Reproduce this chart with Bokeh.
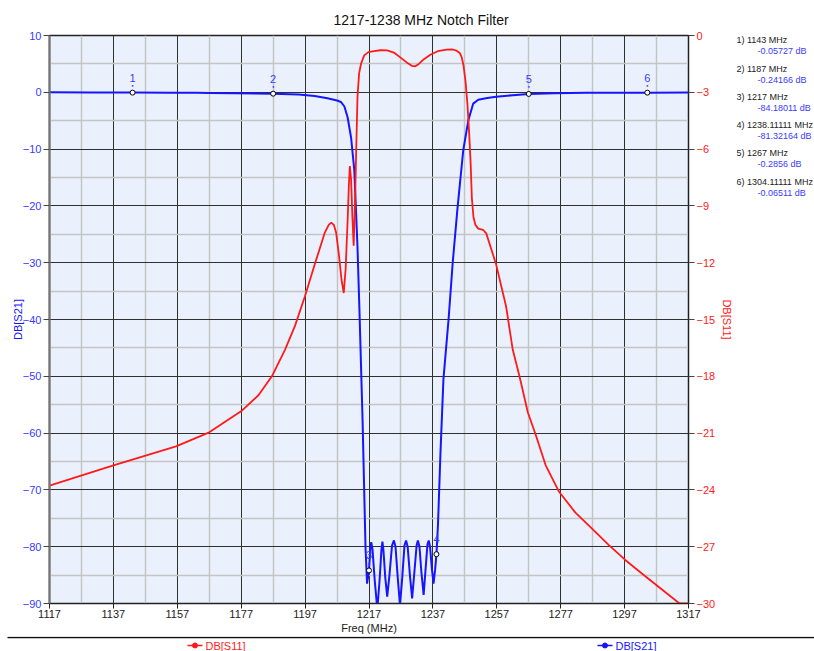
from bokeh.plotting import figure
from bokeh.models import Range1d, LinearAxis, FixedTicker
from bokeh.layouts import column, row
from bokeh.embed import file_html
from bokeh.resources import INLINE
from bokeh.core.properties import value

# ---------------- data ----------------
title_text = "1217-1238 MHz Notch Filter"
x_ticks = list(range(1117, 1318, 20))
x_minor = list(range(1127, 1318, 20))
y_ticks = list(range(10, -91, -10))
y_minor = list(range(5, -90, -10))
r_ticks = list(range(0, -31, -3))

freq_s21 = [1117, 1130, 1143, 1155, 1163, 1167, 1175, 1187, 1195, 1200, 1204, 1207,
            1208.2, 1209.3, 1210.3, 1211.4, 1212.4, 1213.4, 1214.0, 1215.0, 1215.9,
            1216.4, 1217.0, 1217.4, 1217.7, 1218.1, 1218.8, 1219.6, 1220.3, 1220.9,
            1221.2, 1221.5, 1222.1, 1222.7, 1223.4, 1224.2, 1224.8, 1225.3, 1226.0,
            1226.7, 1227.4, 1228.1, 1228.6, 1229.1, 1229.8, 1230.5, 1231.2, 1231.9,
            1232.3, 1232.8, 1233.4, 1234.1, 1234.7, 1235.3, 1235.7, 1236.1, 1236.7,
            1237.2, 1237.7, 1238.11111, 1238.6, 1239.4, 1240.3, 1241.9, 1243.2, 1244.7,
            1246.5, 1248.1, 1249.6, 1251.2, 1254.0, 1256.8, 1262, 1267, 1275, 1285,
            1304.11111, 1317]
db_s21 = [0, -0.03, -0.057, -0.07, -0.08, -0.12, -0.16, -0.24, -0.4, -0.65, -1.05, -1.45,
          -1.7, -2.5, -4.4, -8.0, -13.7, -27.2, -38.2, -58, -80,
          -86.5, -84.2, -80.5, -79.2, -80.5, -86, -91, -86, -80.5,
          -79.1, -80.5, -85.5, -88.8, -85, -79.8, -78.9, -80, -85.5,
          -90.3, -85.5, -79.8, -78.9, -80, -85, -89.1, -84.5, -79.8,
          -78.9, -80, -84.5, -88.5, -84, -79.6, -78.9, -80, -84,
          -86.5, -84, -81.32164, -76, -63, -50.5, -40, -30, -20.4,
          -10.2, -4.9, -2.0, -1.3, -1.0, -0.8, -0.5, -0.2856, -0.15, -0.08,
          -0.06511, -0.05]

freq_s11 = [1117, 1137, 1156.6, 1167, 1177.3, 1182.4, 1186.6, 1190.7, 1193.8, 1196.9,
            1200, 1203.1, 1204.4, 1205.2, 1206.0, 1206.7, 1207.6, 1208.4, 1209.1, 1209.7,
            1210.3, 1210.7, 1211.0, 1211.4, 1211.8, 1212.2, 1212.6, 1213.0, 1213.4, 1213.9,
            1214.5, 1215.5, 1216.8, 1218.6, 1220.5, 1222.7, 1225.0, 1227.0, 1228.8, 1230.4,
            1231.5, 1232.6, 1234.2, 1236.2, 1238.5, 1241.3, 1243.2, 1244.4, 1245.4, 1246.0,
            1246.6, 1247.2, 1247.8, 1248.3, 1248.8, 1249.2, 1249.7, 1250.3, 1251.2, 1252.7,
            1253.7, 1255.3, 1256.8, 1259.9, 1262, 1264.1, 1266.7, 1269.2, 1272.3, 1276.5,
            1281.6, 1286.8, 1292, 1297.2, 1302.3, 1307.5, 1314.2, 1317]
db_s11 = [-23.77, -22.7, -21.7, -20.96, -19.8, -19.0, -18.0, -16.6, -15.35, -13.8,
          -12.1, -10.44, -10.0, -9.88, -10.0, -10.4, -11.6, -12.9, -13.6, -12.3,
          -9.8, -7.9, -6.9, -7.6, -9.6, -11.1, -9.0, -6.0, -3.25, -2.0,
          -1.49, -1.05, -0.88, -0.82, -0.78, -0.79, -0.92, -1.18, -1.42, -1.6,
          -1.63, -1.5, -1.25, -1.02, -0.83, -0.75, -0.74, -0.8, -0.92, -1.14,
          -1.6, -2.4, -3.6, -5.0, -6.7, -8.6, -9.6, -10.0, -10.2, -10.26,
          -10.45, -11.3, -12.1, -14.3, -16.6, -18.0, -19.9, -21.1, -22.7, -24.1,
          -25.2, -26.05, -26.9, -27.7, -28.4, -29.1, -30, -30]

marker_ids = ["1", "2", "3", "4", "5", "6"]
marker_freq = [1143, 1187, 1217, 1238.11111, 1267, 1304.11111]
marker_db = [-0.05727, -0.24166, -84.18011, -81.32164, -0.2856, -0.06511]
marker_freq_text = ["1143", "1187", "1217", "1238.11111", "1267", "1304.11111"]
marker_db_text = ["-0.05727", "-0.24166", "-84.18011", "-81.32164", "-0.2856", "-0.06511"]

legend_labels = ["DB[S11]", "DB[S21]"]

# ---------------- layout / style ----------------
FONT = "Liberation Sans"
BLUE = "#1515ff"
BLUE_TXT = "#3a3aff"
RED = "#ff1a1a"
W_TOTAL = 814
W_MAIN = 736
H_MAIN, H_STRIP = 636, 15
BL, BT = 49, 35
FRAME_W, FRAME_H = 645, 570
BR = W_MAIN - BL - FRAME_W
BB = H_MAIN - BT - FRAME_H
X0, X1 = x_ticks[0], x_ticks[-1]
Y0, Y1 = y_ticks[-1], y_ticks[0]

p = figure(width=W_MAIN, height=H_MAIN, x_range=Range1d(X0, X1), y_range=Range1d(Y0, Y1),
           output_backend="svg", toolbar_location=None,
           min_border_left=BL, min_border_right=BR, min_border_top=BT,
           min_border_bottom=BB, background_fill_color="#eaf1fd",
           border_fill_color="white")
p.outline_line_color = "#222222"
p.outline_line_width = 1.5

p.title.text = title_text
p.title.align = "left"
p.title.offset = 284
p.title.standoff = 16
p.title.text_font = FONT
p.title.text_font_size = "14px"
p.title.text_font_style = "normal"
p.title.text_color = "#111111"

p.xaxis.ticker = FixedTicker(ticks=x_ticks, minor_ticks=x_minor)
p.yaxis.ticker = FixedTicker(ticks=y_ticks, minor_ticks=y_minor)
p.xgrid.ticker = p.xaxis.ticker
p.ygrid.ticker = p.yaxis.ticker
for g in (p.xgrid, p.ygrid):
    g.grid_line_color = "#303030"
    g.grid_line_width = 1
    g.minor_grid_line_color = "#c4c4c4"
    g.minor_grid_line_width = 1.5

p.xaxis.axis_label = "Freq (MHz)"
p.xaxis.axis_label_text_font = FONT
p.xaxis.axis_label_text_font_size = "11px"
p.xaxis.axis_label_text_font_style = "normal"
p.xaxis.axis_label_text_color = "#222222"
p.xaxis.axis_label_standoff = 1
p.xaxis.major_label_text_font = FONT
p.xaxis.major_label_text_font_size = "11px"
p.xaxis.major_label_text_color = "#222222"
p.xaxis.major_label_standoff = 1
p.xaxis.major_tick_out = 5
p.xaxis.major_tick_in = 0
p.xaxis.minor_tick_line_color = None
p.xaxis.axis_line_color = "#222222"
p.xaxis.major_tick_line_color = "#222222"

p.yaxis.axis_label = "DB[S21]"
p.yaxis.axis_label_text_font = FONT
p.yaxis.axis_label_text_font_size = "11px"
p.yaxis.axis_label_text_font_style = "normal"
p.yaxis.axis_label_text_color = BLUE
p.yaxis.axis_label_standoff = -4
p.yaxis.major_label_text_font = FONT
p.yaxis.major_label_text_font_size = "11px"
p.yaxis.major_label_text_color = BLUE_TXT
p.yaxis.major_label_standoff = 2
p.yaxis.major_tick_out = 6
p.yaxis.major_tick_in = 0
p.yaxis.minor_tick_line_color = None
p.yaxis.axis_line_color = "#777777"
p.yaxis.axis_line_width = 2
p.yaxis.major_tick_line_color = "#444444"

p.extra_y_ranges = {"s11": Range1d(r_ticks[-1], r_ticks[0])}
ax_r = LinearAxis(y_range_name="s11", ticker=FixedTicker(ticks=r_ticks),
                  axis_label="DB[S11]")
ax_r.axis_label_text_font = FONT
ax_r.axis_label_text_font_size = "11px"
ax_r.axis_label_text_font_style = "normal"
ax_r.axis_label_text_color = RED
ax_r.axis_label_standoff = 3
ax_r.major_label_text_font = FONT
ax_r.major_label_text_font_size = "11px"
ax_r.major_label_text_color = RED
ax_r.major_label_standoff = 2
ax_r.major_tick_out = 6
ax_r.major_tick_in = 0
ax_r.minor_tick_line_color = None
ax_r.axis_line_color = "#222222"
ax_r.major_tick_line_color = "#444444"
p.add_layout(ax_r, "right")

# ---------------- curves ----------------
r21 = p.line(freq_s21, db_s21, line_color=BLUE, line_width=2)
r11 = p.line(freq_s11, db_s11, y_range_name="s11", line_color=RED, line_width=1.8)

p.scatter(marker_freq, marker_db, size=5, fill_color="white", line_color="black",
          line_width=1)
p.text(marker_freq, marker_db, text=marker_ids, y_offset=-15, text_align="center",
       text_baseline="middle", text_color=BLUE_TXT, text_font=value(FONT),
       text_font_size="11px")
p.text(marker_freq, marker_db, text=["\u2022"] * len(marker_ids), y_offset=-7,
       text_align="center", text_baseline="middle", text_color=BLUE_TXT,
       text_font=value("DejaVu Sans"), text_font_size="6px")

# ---------------- side panel: marker read-outs (px coordinates) ----------------
side = figure(width=W_TOTAL - W_MAIN, height=H_MAIN,
              x_range=Range1d(W_MAIN, W_TOTAL), y_range=Range1d(BT + FRAME_H, BT),
              output_backend="svg", toolbar_location=None,
              min_border_left=0, min_border_right=0, min_border_top=BT,
              min_border_bottom=BB, x_axis_type=None, y_axis_type=None,
              border_fill_color="white", background_fill_color="white")
side.outline_line_color = None
side.grid.visible = False
line_y = [40 + 28.33 * i for i in range(len(marker_ids))]
side.text([W_MAIN] * len(marker_ids), line_y,
          text=[f"{m}) {f} MHz" for m, f in zip(marker_ids, marker_freq_text)],
          text_align="left", text_baseline="middle", text_color="#222222",
          text_font=value(FONT), text_font_size="9px")
side.text([W_MAIN + 21] * len(marker_ids), [y + 11 for y in line_y],
          text=[f"{d} dB" for d in marker_db_text],
          text_align="left", text_baseline="middle", text_color=BLUE_TXT,
          text_font=value(FONT), text_font_size="9px")

# ---------------- bottom strip: separator + legend (px coordinates) ----------------
s = figure(width=W_TOTAL, height=H_STRIP, x_range=Range1d(0, W_TOTAL),
           y_range=Range1d(H_STRIP, 0), output_backend="svg", toolbar_location=None,
           min_border_left=0, min_border_right=0, min_border_top=0, min_border_bottom=0,
           x_axis_type=None, y_axis_type=None, border_fill_color="white",
           background_fill_color="white")
s.outline_line_color = None
s.grid.visible = False
s.segment(x0=[7], y0=[1], x1=[W_TOTAL], y1=[1], line_color="#111111", line_width=1.5)
leg_x = [187, 597]
leg_cols = [RED, BLUE]
s.segment(x0=leg_x, y0=[9, 9], x1=[x + 15 for x in leg_x], y1=[9, 9],
          line_color=leg_cols, line_width=1.5)
s.scatter([x + 7.5 for x in leg_x], [9, 9], size=5, fill_color=leg_cols,
          line_color=leg_cols)
s.text([x + 18 for x in leg_x], [9, 9], text=legend_labels, text_align="left",
       text_baseline="middle", text_color=leg_cols, text_font=value(FONT),
       text_font_size="11px")

layout = column(row(p, side, spacing=0), s, spacing=0)
open("out.html", "w").write(file_html(layout, INLINE))
